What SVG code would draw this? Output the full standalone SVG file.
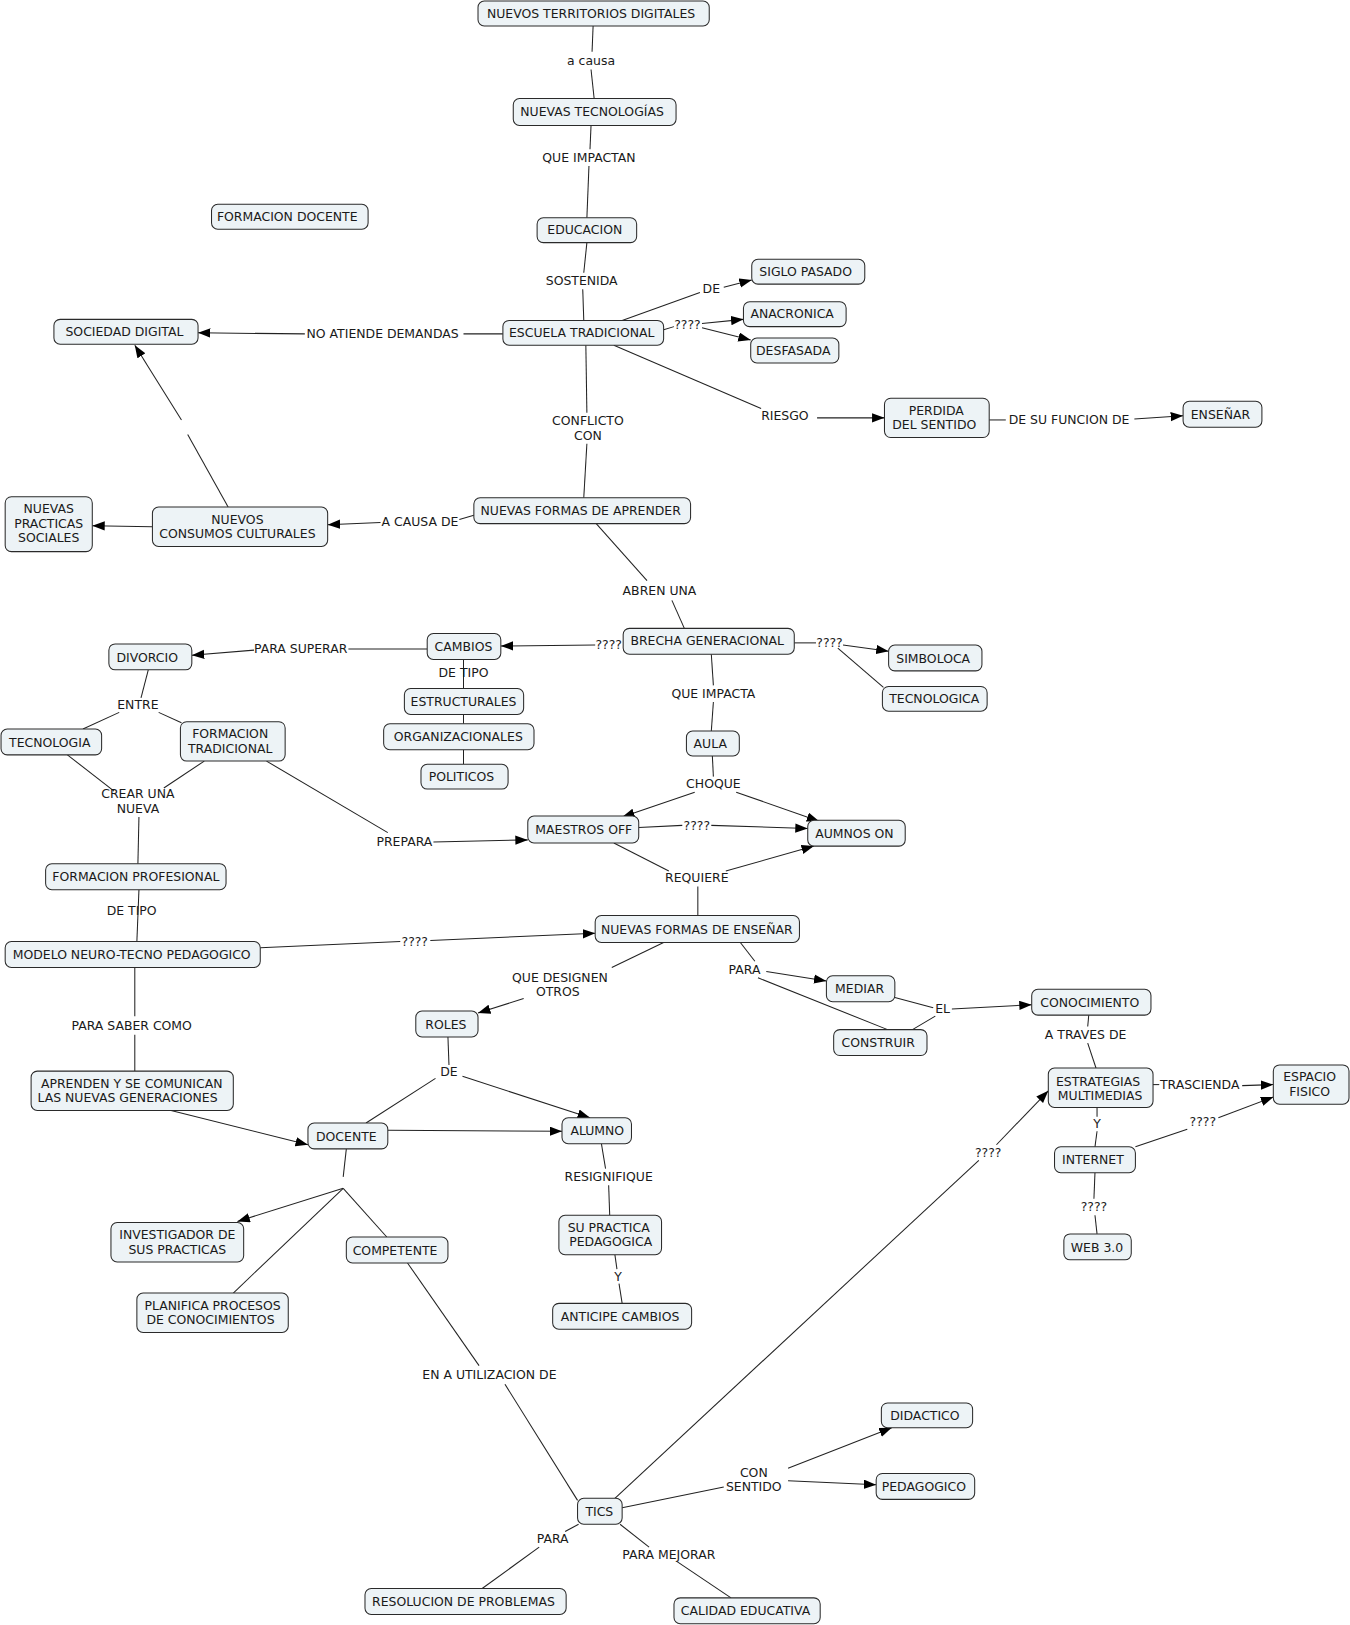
<svg xmlns="http://www.w3.org/2000/svg" width="1350" height="1625" viewBox="0 0 1350 1625">
<defs>
<style>
.n rect{fill:#edf3f6;stroke:#2a2a2a;stroke-width:1}
text{font-family:"DejaVu Sans",Verdana,"Liberation Sans",sans-serif;font-size:12px;fill:#1a1a1a;text-anchor:middle}
.c line,.c polyline{stroke:#222;stroke-width:1;fill:none}
.a{marker-end:url(#ah)}
</style>
<marker id="ah" markerUnits="userSpaceOnUse" markerWidth="13" markerHeight="10" refX="12" refY="4.5" orient="auto">
<path d="M0,0 L12,4.5 L0,9 z" fill="#000"/>
</marker>
</defs>
<rect width="1350" height="1625" fill="#fff"/>
<g transform="scale(1.0369)">
<g id="connectors" class="c">
<line x1="572" y1="25" x2="571" y2="50"/><line x1="570" y1="67" x2="573" y2="95"/>
<line x1="570" y1="121" x2="569" y2="144"/><line x1="568" y1="160" x2="566" y2="210"/>
<line x1="566" y1="234" x2="563" y2="263"/><line x1="562" y1="279" x2="563" y2="309"/>
<line x1="600" y1="309" x2="675" y2="282"/><line class="a" x1="698" y1="277" x2="725" y2="270"/>
<line x1="640" y1="318" x2="650" y2="315"/><line class="a" x1="677" y1="312" x2="717" y2="308"/><line class="a" x1="677" y1="316" x2="724" y2="328"/>
<line x1="485" y1="322" x2="447" y2="322"/><line class="a" x1="294" y1="322" x2="191" y2="321"/>
<line x1="592" y1="333" x2="734" y2="394"/><line class="a" x1="788" y1="403" x2="853" y2="403"/>
<line x1="954" y1="405" x2="970" y2="405"/><line class="a" x1="1094" y1="404" x2="1141" y2="401"/>
<line x1="565" y1="333" x2="566" y2="398"/><line x1="566" y1="428" x2="563" y2="480"/>
<line x1="457" y1="497" x2="443" y2="501"/><line class="a" x1="367" y1="504" x2="316" y2="506"/>
<line class="a" x1="147" y1="508" x2="89" y2="507"/>
<line x1="220" y1="489" x2="181" y2="419"/><line class="a" x1="175" y1="405" x2="130" y2="333"/>
<line x1="575" y1="505" x2="624" y2="560"/><line x1="648" y1="579" x2="660" y2="606"/>
<line class="a" x1="574" y1="622" x2="483" y2="623"/>
<line x1="412" y1="626" x2="336" y2="626"/><line class="a" x1="245" y1="627" x2="185" y2="632"/>
<line x1="447" y1="636" x2="447" y2="664"/>
<line x1="447" y1="689" x2="447" y2="698"/><line x1="447" y1="723" x2="447" y2="737"/>
<line x1="766" y1="620" x2="787" y2="620"/><line class="a" x1="813" y1="622" x2="857" y2="628"/><line x1="808" y1="625" x2="852" y2="663"/>
<line x1="686" y1="631" x2="688" y2="661"/><line x1="688" y1="677" x2="686" y2="705"/>
<line x1="687" y1="729" x2="688" y2="749"/><line class="a" x1="670" y1="764" x2="600" y2="788"/><line class="a" x1="710" y1="764" x2="790" y2="792"/>
<line x1="616" y1="798" x2="658" y2="796"/><line class="a" x1="686" y1="796" x2="779" y2="799"/>
<line x1="592" y1="813" x2="645" y2="840"/><line class="a" x1="700" y1="840" x2="785" y2="816"/><line x1="673" y1="855" x2="673" y2="883"/>
<line x1="143" y1="646" x2="136" y2="673"/><line x1="115" y1="687" x2="80" y2="703"/><line x1="153" y1="687" x2="175" y2="697"/>
<line x1="65" y1="728" x2="110" y2="763"/><line x1="197" y1="734" x2="158" y2="760"/><line x1="134" y1="788" x2="133" y2="833"/>
<line x1="257" y1="734" x2="374" y2="803"/><line class="a" x1="418" y1="812" x2="509" y2="810"/>
<line x1="134" y1="858" x2="132" y2="908"/>
<line x1="251" y1="914" x2="386" y2="908"/><line class="a" x1="415" y1="907" x2="574" y2="900"/>
<line x1="130" y1="933" x2="130" y2="980"/><line x1="130" y1="998" x2="130" y2="1033"/>
<line class="a" x1="165" y1="1071" x2="297" y2="1104"/>
<line x1="640" y1="909" x2="590" y2="933"/><line class="a" x1="505" y1="963" x2="461" y2="977"/>
<line x1="714" y1="909" x2="728" y2="927"/><line class="a" x1="739" y1="937" x2="797" y2="946"/><line x1="731" y1="943" x2="856" y2="993"/>
<line x1="863" y1="962" x2="900" y2="972"/><line x1="880" y1="993" x2="902" y2="980"/><line class="a" x1="918" y1="973" x2="995" y2="969"/>
<line x1="1050" y1="979" x2="1049" y2="990"/><line x1="1049" y1="1006" x2="1057" y2="1030"/>
<line x1="1112" y1="1046" x2="1118" y2="1046"/><line class="a" x1="1198" y1="1047" x2="1228" y2="1046"/>
<line x1="1058" y1="1068" x2="1058" y2="1077"/><line x1="1058" y1="1091" x2="1056" y2="1106"/>
<line x1="1095" y1="1106" x2="1145" y2="1089"/><line class="a" x1="1175" y1="1078" x2="1228" y2="1058"/>
<line x1="1056" y1="1131" x2="1055" y2="1156"/><line x1="1056" y1="1172" x2="1058" y2="1190"/>
<line x1="432" y1="1000" x2="433" y2="1027"/><line x1="420" y1="1040" x2="353" y2="1083"/><line class="a" x1="446" y1="1038" x2="569" y2="1078"/>
<line class="a" x1="374" y1="1090" x2="542" y2="1091"/>
<line x1="334" y1="1108" x2="331" y2="1135"/>
<line class="a" x1="331" y1="1146" x2="229" y2="1178"/><line x1="331" y1="1146" x2="225" y2="1247"/><line x1="331" y1="1146" x2="373" y2="1193"/>
<line x1="580" y1="1103" x2="584" y2="1127"/><line x1="587" y1="1143" x2="588" y2="1172"/>
<line x1="593" y1="1210" x2="595" y2="1224"/><line x1="597" y1="1238" x2="600" y2="1257"/>
<line x1="393" y1="1218" x2="462" y2="1317"/><line x1="487" y1="1335" x2="557" y2="1447"/>
<line x1="593" y1="1445" x2="944" y2="1119"/><line class="a" x1="961" y1="1104" x2="1011" y2="1052"/>
<line x1="600" y1="1454" x2="698" y2="1434"/><line class="a" x1="760" y1="1416" x2="860" y2="1377"/><line class="a" x1="760" y1="1428" x2="845" y2="1432"/>
<line x1="558" y1="1470" x2="545" y2="1477"/><line x1="520" y1="1492" x2="465" y2="1532"/>
<line x1="598" y1="1470" x2="626" y2="1492"/><line x1="653" y1="1506" x2="705" y2="1541"/>
</g>
<g id="labels">
<text x="570" y="63">a causa</text>
<text x="568" y="156">QUE IMPACTAN</text>
<text x="561" y="275">SOSTENIDA</text>
<text x="686" y="283">DE</text>
<text x="663" y="317">????</text>
<text x="369" y="326">NO ATIENDE DEMANDAS</text>
<text x="757" y="405">RIESGO</text>
<text x="1031" y="409">DE SU FUNCION DE</text>
<text x="567" y="410">CONFLICTO</text><text x="567" y="424">CON</text>
<text x="405" y="507">A CAUSA DE</text>
<text x="636" y="574">ABREN UNA</text>
<text x="587" y="626">????</text>
<text x="290" y="630">PARA SUPERAR</text>
<text x="447" y="653">DE TIPO</text>
<text x="800" y="624">????</text>
<text x="688" y="673">QUE IMPACTA</text>
<text x="688" y="760">CHOQUE</text>
<text x="672" y="800">????</text>
<text x="672" y="851">REQUIERE</text>
<text x="133" y="684">ENTRE</text>
<text x="133" y="770">CREAR UNA</text><text x="133" y="784">NUEVA</text>
<text x="390" y="816">PREPARA</text>
<text x="127" y="882">DE TIPO</text>
<text x="400" y="912">????</text>
<text x="127" y="993">PARA SABER COMO</text>
<text x="540" y="947">QUE DESIGNEN</text><text x="538" y="961">OTROS</text>
<text x="718" y="939">PARA</text>
<text x="909" y="977">EL</text>
<text x="1047" y="1002">A TRAVES DE</text>
<text x="1157" y="1050">TRASCIENDA</text>
<text x="1058" y="1088">Y</text>
<text x="1160" y="1086">????</text>
<text x="1055" y="1168">????</text>
<text x="953" y="1116">????</text>
<text x="433" y="1038">DE</text>
<text x="587" y="1139">RESIGNIFIQUE</text>
<text x="596" y="1235">Y</text>
<text x="472" y="1330">EN A UTILIZACION DE</text>
<text x="727" y="1424">CON</text><text x="727" y="1438">SENTIDO</text>
<text x="533" y="1488">PARA</text>
<text x="645" y="1504">PARA MEJORAR</text>
</g>
<g id="n1" class="n"><rect x="461" y="1" width="223" height="24" rx="6"/><text x="570" y="17">NUEVOS TERRITORIOS DIGITALES</text></g>
<g id="n2" class="n"><rect x="495" y="95" width="157" height="26" rx="6"/><text x="571" y="112">NUEVAS TECNOLOGÍAS</text></g>
<g id="n3" class="n"><rect x="204" y="197" width="151" height="24" rx="6"/><text x="277" y="213">FORMACION DOCENTE</text></g>
<g id="n4" class="n"><rect x="518" y="210" width="96" height="24" rx="6"/><text x="564" y="226">EDUCACION</text></g>
<g id="n5" class="n"><rect x="725" y="250" width="109" height="24" rx="6"/><text x="777" y="266">SIGLO PASADO</text></g>
<g id="n6" class="n"><rect x="717" y="291" width="99" height="24" rx="6"/><text x="764" y="307">ANACRONICA</text></g>
<g id="n7" class="n"><rect x="52" y="308" width="139" height="24" rx="6"/><text x="120" y="324">SOCIEDAD DIGITAL</text></g>
<g id="n8" class="n"><rect x="485" y="309" width="155" height="24" rx="6"/><text x="561" y="325">ESCUELA TRADICIONAL</text></g>
<g id="n9" class="n"><rect x="724" y="326" width="85" height="24" rx="6"/><text x="765" y="342">DESFASADA</text></g>
<g id="n10" class="n"><rect x="853" y="384" width="101" height="38" rx="6"/><text x="903" y="400">PERDIDA</text><text x="901" y="414">DEL SENTIDO</text></g>
<g id="n11" class="n"><rect x="1141" y="387" width="76" height="25" rx="6"/><text x="1177" y="404">ENSEÑAR</text></g>
<g id="n12" class="n"><rect x="5" y="479" width="84" height="53" rx="6"/><text x="47" y="495">NUEVAS</text><text x="47" y="509">PRACTICAS</text><text x="47" y="523">SOCIALES</text></g>
<g id="n13" class="n"><rect x="147" y="489" width="169" height="38" rx="6"/><text x="229" y="505">NUEVOS</text><text x="229" y="519">CONSUMOS CULTURALES</text></g>
<g id="n14" class="n"><rect x="457" y="480" width="209" height="25" rx="6"/><text x="560" y="497">NUEVAS FORMAS DE APRENDER</text></g>
<g id="n15" class="n"><rect x="412" y="611" width="71" height="25" rx="6"/><text x="447" y="628">CAMBIOS</text></g>
<g id="n16" class="n"><rect x="601" y="606" width="165" height="25" rx="6"/><text x="682" y="622">BRECHA GENERACIONAL</text></g>
<g id="n17" class="n"><rect x="105" y="621" width="80" height="25" rx="6"/><text x="142" y="638">DIVORCIO</text></g>
<g id="n18" class="n"><rect x="857" y="622" width="90" height="25" rx="6"/><text x="900" y="639">SIMBOLOCA</text></g>
<g id="n19" class="n"><rect x="851" y="662" width="101" height="24" rx="6"/><text x="901" y="678">TECNOLOGICA</text></g>
<g id="n20" class="n"><rect x="390" y="664" width="115" height="25" rx="6"/><text x="447" y="681">ESTRUCTURALES</text></g>
<g id="n21" class="n"><rect x="1" y="703" width="97" height="25" rx="6"/><text x="48" y="720">TECNOLOGIA</text></g>
<g id="n22" class="n"><rect x="174" y="696" width="101" height="38" rx="6"/><text x="222" y="712">FORMACION</text><text x="222" y="726">TRADICIONAL</text></g>
<g id="n23" class="n"><rect x="370" y="698" width="145" height="25" rx="6"/><text x="442" y="715">ORGANIZACIONALES</text></g>
<g id="n24" class="n"><rect x="662" y="705" width="51" height="24" rx="6"/><text x="685" y="721">AULA</text></g>
<g id="n25" class="n"><rect x="406" y="737" width="84" height="24" rx="6"/><text x="445" y="753">POLITICOS</text></g>
<g id="n26" class="n"><rect x="509" y="787" width="107" height="26" rx="6"/><text x="563" y="804">MAESTROS OFF</text></g>
<g id="n27" class="n"><rect x="779" y="791" width="94" height="25" rx="6"/><text x="824" y="808">AUMNOS ON</text></g>
<g id="n28" class="n"><rect x="44" y="833" width="174" height="25" rx="6"/><text x="131" y="850">FORMACION PROFESIONAL</text></g>
<g id="n29" class="n"><rect x="574" y="883" width="197" height="26" rx="6"/><text x="672" y="901">NUEVAS FORMAS DE ENSEÑAR</text></g>
<g id="n30" class="n"><rect x="5" y="908" width="246" height="25" rx="6"/><text x="127" y="925">MODELO NEURO-TECNO PEDAGOGICO</text></g>
<g id="n31" class="n"><rect x="797" y="941" width="66" height="25" rx="6"/><text x="829" y="958">MEDIAR</text></g>
<g id="n32" class="n"><rect x="995" y="954" width="115" height="25" rx="6"/><text x="1051" y="971">CONOCIMIENTO</text></g>
<g id="n33" class="n"><rect x="401" y="975" width="60" height="25" rx="6"/><text x="430" y="992">ROLES</text></g>
<g id="n34" class="n"><rect x="804" y="993" width="90" height="25" rx="6"/><text x="847" y="1010">CONSTRUIR</text></g>
<g id="n35" class="n"><rect x="1228" y="1027" width="73" height="38" rx="6"/><text x="1263" y="1043">ESPACIO</text><text x="1263" y="1057">FISICO</text></g>
<g id="n36" class="n"><rect x="1011" y="1030" width="101" height="38" rx="6"/><text x="1059" y="1047">ESTRATEGIAS</text><text x="1061" y="1061">MULTIMEDIAS</text></g>
<g id="n37" class="n"><rect x="30" y="1033" width="195" height="38" rx="6"/><text x="127" y="1049">APRENDEN Y SE COMUNICAN</text><text x="123" y="1063">LAS NUEVAS GENERACIONES</text></g>
<g id="n38" class="n"><rect x="297" y="1083" width="77" height="25" rx="6"/><text x="334" y="1100">DOCENTE</text></g>
<g id="n39" class="n"><rect x="542" y="1078" width="67" height="25" rx="6"/><text x="576" y="1095">ALUMNO</text></g>
<g id="n40" class="n"><rect x="1017" y="1106" width="78" height="25" rx="6"/><text x="1054" y="1123">INTERNET</text></g>
<g id="n41" class="n"><rect x="107" y="1179" width="128" height="38" rx="6"/><text x="171" y="1195">INVESTIGADOR DE</text><text x="171" y="1209">SUS PRACTICAS</text></g>
<g id="n42" class="n"><rect x="539" y="1172" width="99" height="38" rx="6"/><text x="587" y="1188">SU PRACTICA</text><text x="589" y="1202">PEDAGOGICA</text></g>
<g id="n43" class="n"><rect x="1026" y="1190" width="65" height="25" rx="6"/><text x="1058" y="1207">WEB 3.0</text></g>
<g id="n44" class="n"><rect x="334" y="1193" width="98" height="25" rx="6"/><text x="381" y="1210">COMPETENTE</text></g>
<g id="n45" class="n"><rect x="132" y="1247" width="146" height="38" rx="6"/><text x="205" y="1263">PLANIFICA PROCESOS</text><text x="203" y="1277">DE CONOCIMIENTOS</text></g>
<g id="n46" class="n"><rect x="533" y="1257" width="134" height="25" rx="6"/><text x="598" y="1274">ANTICIPE CAMBIOS</text></g>
<g id="n47" class="n"><rect x="850" y="1353" width="88" height="24" rx="6"/><text x="892" y="1369">DIDACTICO</text></g>
<g id="n48" class="n"><rect x="845" y="1421" width="95" height="25" rx="6"/><text x="891" y="1438">PEDAGOGICO</text></g>
<g id="n49" class="n"><rect x="557" y="1445" width="43" height="25" rx="6"/><text x="578" y="1462">TICS</text></g>
<g id="n50" class="n"><rect x="352" y="1532" width="194" height="25" rx="6"/><text x="447" y="1549">RESOLUCION DE PROBLEMAS</text></g>
<g id="n51" class="n"><rect x="650" y="1541" width="141" height="25" rx="6"/><text x="719" y="1558">CALIDAD EDUCATIVA</text></g>
</g>
</svg>
